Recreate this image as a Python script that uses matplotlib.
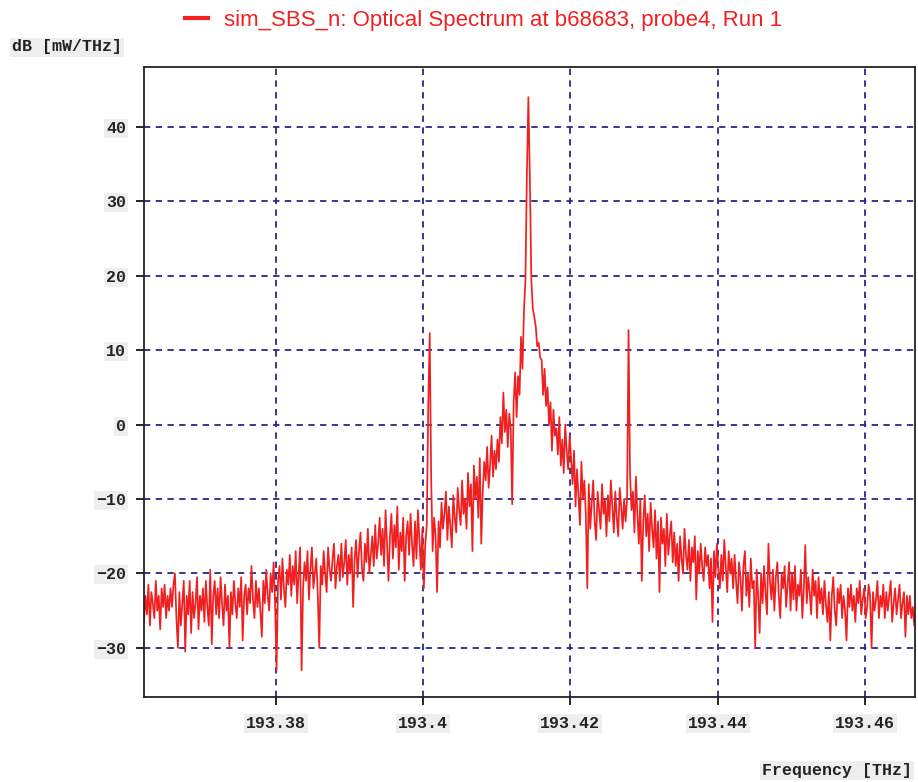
import numpy as np
import matplotlib
matplotlib.use('Agg')
import matplotlib.pyplot as plt
from matplotlib.lines import Line2D
from matplotlib.font_manager import FontProperties


# frequency grid of the spectrum (THz), one sample every 0.2 GHz
f_start = 193.3621
f_step = 0.0002
n_pts = 524

# power density in dB [mW/THz] (20 samples per row)
level_db = [
    -26.5, -23, -25.5, -21.5, -27, -22.5, -24, -26, -21, -25, -23, -27.5, -22, -24.5, -21.5, -26, -23, -25, -22, -24.5,
    -21.5, -20, -26, -30, -22.5, -27, -24, -21, -30.5, -23, -25.5, -21, -28, -22.5, -26, -24, -20.5, -27.5, -23, -25,
    -22, -26.5, -21, -24.5, -27, -19.5, -29.5, -23, -21, -25.5, -22, -26, -20.5, -24, -27, -21.5, -25, -23, -30, -22.5,
    -25.5, -21, -24, -26, -22, -24.5, -20.5, -29, -23, -21.5, -25.5, -22, -24, -19, -23.5, -26, -21, -24.5, -22, -25,
    -28.5, -21, -24, -19.5, -23, -25, -20, -22.5, -18.5, -24, -33, -21, -19, -23.5, -18, -22, -24.5, -19.5, -21.5, -17.5,
    -23, -19, -21.5, -17, -24, -20, -16.5, -33, -22, -18.5, -21, -17, -23.5, -19.5, -16.5, -22, -20, -18, -23, -30,
    -19, -21.5, -17, -20, -22.5, -16.5, -19.5, -21, -18, -16, -22, -19, -17.5, -21, -16, -20.5, -18.5, -15.5, -21.5, -17.5,
    -20, -16.5, -24.5, -18, -15.5, -20.5, -17, -14.5, -19.5, -21, -16, -18.5, -14, -20, -17.5, -15, -19, -13.5, -18, -16,
    -12.5, -17.5, -14, -19, -11.5, -16, -21, -15, -12, -18, -13.5, -16.5, -11, -19.5, -14.5, -17, -12.5, -21, -15, -13,
    -17.5, -12, -16, -19, -13, -18, -11.5, -15.5, -19.5, -14, -22, -16, -13.5, 2.5, 12.3, -7.5, -17, -12.5, -15, -22.5,
    -13, -16.5, -10.5, -14, -12, -9, -15.5, -11, -13.5, -16.5, -9.5, -12.5, -14.5, -8.5, -11.5, -13.5, -7.5, -12, -10, -14,
    -6.5, -11, -8, -17, -5.5, -10, -7, -12.5, -4.5, -16, -9, -5, -7.5, -3, -8.5, -5.5, -1.5, -7, -3.5, -6,
    -2, -5, 1, -2.5, 4.3, -1, 2, -3, 1.5, -0.5, -10.7, 3, 7, 1, 6.5, 4, 11.8, 7.5, 15.4, 19.5,
    34, 44, 33, 19.5, 15.5, 14.5, 13.2, 10.5, 11, 9, 8.7, 4, 7.5, 2.5, 5, 0, 3, -3.5, 2, -1.5,
    -0.5, -4, 1, -5.5, -2, -6.5, 0, -3.5, -6, -1.5, -4.5, -8, -3.5, -11, -6, -9.5, -13.5, -5, -10, -7.5,
    -12, -22, -8, -14, -10.5, -7.5, -13, -15.5, -9, -11.5, -14, -8, -12, -10, -15, -9.5, -13, -7.5, -11, -14.5,
    -9, -12.5, -15, -8.5, -11, -14, -10, -13, -10, 12.7, -6.5, -11.5, -9, -14.5, -7, -12, -16, -10, -21, -13,
    -9.5, -15, -12, -17, -10.5, -14, -16.5, -11.5, -18, -13, -22.5, -12.5, -16, -14, -19, -12, -17.5, -15, -13, -18.5,
    -14.5, -19, -16, -21, -15, -18, -20, -14, -17.5, -19.5, -15.5, -21, -16.5, -18.5, -15, -23.5, -17, -20, -16, -19,
    -21, -16.5, -19, -17.5, -22, -18, -26.5, -17, -20.5, -16, -19.5, -22, -17.5, -21, -15.5, -19, -22.5, -17, -20, -18,
    -22, -17.5, -21, -24, -18.5, -20.5, -25, -19, -17, -23, -20, -24.5, -18, -22, -21, -30, -19.5, -23, -28, -20,
    -24, -19, -22.5, -25.5, -16, -21, -23.5, -19.5, -25, -20.5, -18.5, -23, -26, -20, -22, -19, -24.5, -21.5, -18.5, -25,
    -20, -23.5, -19, -25, -21.5, -23, -19.5, -26, -22, -16.2, -24, -20.5, -22.5, -25.5, -19.5, -23, -21, -26, -20.5, -24,
    -22, -25.5, -21, -24, -26.5, -22.5, -29, -23, -20.5, -25, -27, -22, -24, -21.5, -26, -23, -25, -29, -22, -24.5,
    -21.5, -25, -23, -26.5, -22, -24, -21, -25.5, -23.5, -22, -26, -24.5, -21.5, -23, -30, -22.5, -25, -23.5, -21, -26,
    -23, -24.5, -21.5, -26, -22.5, -25, -23, -21, -26.5, -24, -22, -25.5, -23.5, -21.5, -26, -24, -22.5, -28.5, -23, -25.5,
    -23, -26, -24.5, -27,
]

x_ticks = [193.38, 193.40, 193.42, 193.44, 193.46]
x_tick_labels = ['193.38', '193.4', '193.42', '193.44', '193.46']
y_ticks = [-30, -20, -10, 0, 10, 20, 30, 40]

title = 'sim_SBS_n: Optical Spectrum at b68683, probe4, Run 1'
red = '#f02020'

freq = f_start + f_step * np.arange(n_pts)

fig = plt.figure(figsize=(9.18, 7.82), dpi=100)
ax = fig.add_axes([144/918, 85/782, 771/918, 630/782])

ax.plot(freq, level_db, color=red, lw=1.25)

ax.set_xlim(193.3621, 193.4668)
ax.set_ylim(-36.6, 48.05)
ax.set_xticks(x_ticks)
ax.set_xticklabels(x_tick_labels)
ax.set_yticks(y_ticks)

mono = dict(family=['Liberation Mono', 'DejaVu Sans Mono'], weight='bold', size=12)
grey_box = dict(facecolor='#eeeeee', edgecolor='none', pad=1.5)

ax.grid(True, color='#27288a', linestyle=(0, (3.5, 3)), lw=1.3)
ax.tick_params(direction='out', length=6, width=1.2, color='black')
ax.tick_params(axis='y', pad=7)
ax.tick_params(axis='x', pad=8)
for lbl in ax.get_xticklabels() + ax.get_yticklabels():
    lbl.set_fontproperties(FontProperties(**mono))
    lbl.set_color('#222222')
    lbl.set_bbox(grey_box)
for s in ax.spines.values():
    s.set_linewidth(1.3)
    s.set_color('#222222')

fig.text(12/918, 1 - 47/782, 'dB [mW/THz]', ha='left', va='center',
         color='#222222', bbox=grey_box, **mono)
fig.text(912/918, 1 - 770/782, 'Frequency [THz]', ha='right', va='center',
         color='#222222', bbox=grey_box, **mono)

# legend sits above the plot, like the simulator's header
handle = Line2D([], [], color=red, lw=3)
fig.legend([handle], [title], loc='center', bbox_to_anchor=(0.527, 0.974),
           frameon=False, handlelength=1.0, handletextpad=0.75,
           prop=dict(family=['Liberation Sans Narrow', 'Liberation Sans'], size=16),
           labelcolor=red)

fig.savefig('out.png', dpi=100)
